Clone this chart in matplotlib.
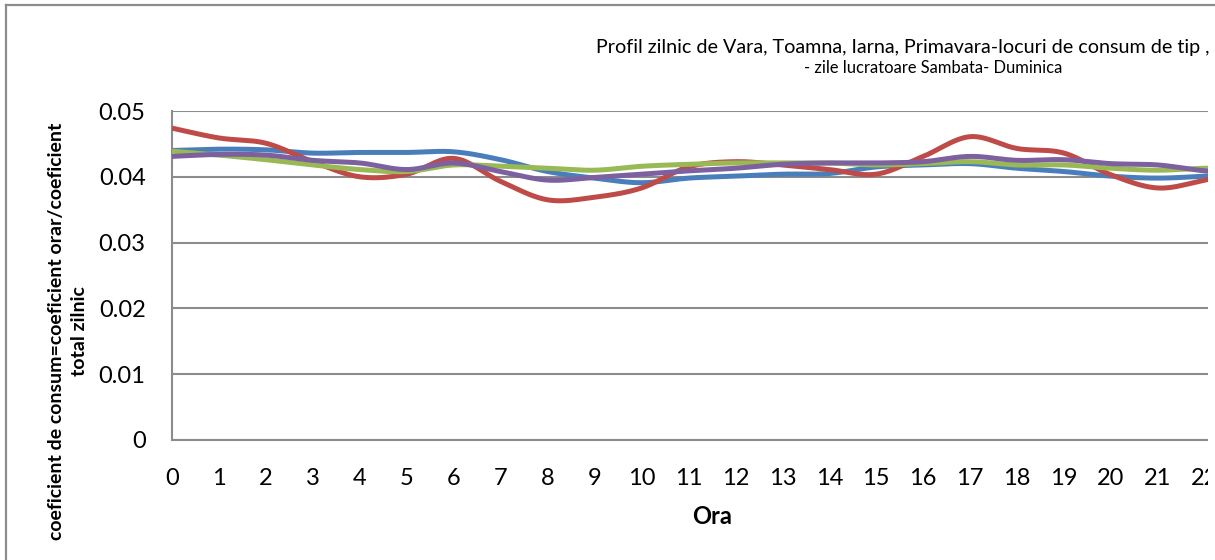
import numpy as np
import matplotlib
matplotlib.use("Agg")
import matplotlib.pyplot as plt
from matplotlib.patches import Rectangle

plt.rcParams["font.family"] = ["Lato", "DejaVu Sans"]

# Hourly consumption coefficients (hour 23 is off-picture, estimated)
ore = list(range(24))
vara = [0.0440, 0.0442, 0.0441, 0.0436, 0.0437, 0.0437, 0.0438, 0.0426, 0.0408, 0.0398, 0.0391, 0.0398,
        0.0401, 0.0404, 0.0405, 0.0415, 0.0418, 0.0420, 0.0413, 0.0408, 0.0401, 0.0398, 0.0401, 0.0405]
toamna = [0.0474, 0.0459, 0.0451, 0.0423, 0.0400, 0.0404, 0.0428, 0.0393, 0.0365, 0.0369, 0.0383, 0.0415,
          0.0423, 0.0418, 0.0411, 0.0404, 0.0431, 0.0461, 0.0443, 0.0436, 0.0403, 0.0383, 0.0395, 0.0410]
iarna = [0.0439, 0.0433, 0.0426, 0.0418, 0.0411, 0.0408, 0.0418, 0.0416, 0.0413, 0.0410, 0.0416, 0.0419,
         0.0421, 0.0421, 0.0421, 0.0418, 0.0420, 0.0423, 0.0418, 0.0418, 0.0413, 0.0410, 0.0413, 0.0412]
primavara = [0.0431, 0.0434, 0.0433, 0.0425, 0.0421, 0.0411, 0.0421, 0.0408, 0.0395, 0.0399, 0.0404, 0.0409,
             0.0413, 0.0419, 0.0421, 0.0421, 0.0423, 0.0431, 0.0425, 0.0426, 0.0420, 0.0418, 0.0409, 0.0405]

y_ticks = [0, 0.01, 0.02, 0.03, 0.04, 0.05]
y_tick_labels = ["0", "0.01", "0.02", "0.03", "0.04", "0.05"]

colors = ["#4a7ebb", "#be4b48", "#98b954", "#7d60a0"]
grid_col = "#8c8c8c"


# Excel-style smoothed line (cubic Bezier through the points, Catmull-Rom tangents)
def smooth(x, y, n=20):
    p = np.column_stack([x, y]).astype(float)
    p = np.vstack([p[0], p, p[-1]])
    out = []
    t = np.linspace(0, 1, n, endpoint=False)[:, None]
    for i in range(1, len(p) - 2):
        p0, p3 = p[i], p[i + 1]
        p1 = p0 + (p[i + 1] - p[i - 1]) / 6
        p2 = p3 - (p[i + 2] - p[i]) / 6
        seg = (1 - t) ** 3 * p0 + 3 * (1 - t) ** 2 * t * p1 + 3 * (1 - t) * t ** 2 * p2 + t ** 3 * p3
        out.append(seg)
    out.append(p[-2][None, :])
    out = np.vstack(out)
    return out[:, 0], out[:, 1]


W, H = 1215, 560
fig = plt.figure(figsize=(W / 100, H / 100), dpi=100)

# plot area runs past the right edge of the picture (chart is cropped)
step = 46.95
ax = fig.add_axes([172 / W, 120 / H, 23 * step / W, 329 / H])

for serie, c in zip([vara, toamna, iarna, primavara], colors):
    xs, ys = smooth(ore, serie)
    ax.plot(xs, ys, color=c, lw=3.6, solid_capstyle="butt", zorder=3)

ax.set_xlim(0, 23)
ax.set_ylim(0, 0.05)
ax.set_xticks(ore)
ax.set_xticklabels([str(h) for h in ore])
ax.set_yticks(y_ticks)
ax.set_yticklabels(y_tick_labels)
ax.tick_params(axis="both", length=0, labelsize=17, colors="black")
ax.tick_params(axis="x", pad=20)
ax.tick_params(axis="y", pad=19)
ax.grid(axis="y", color=grid_col, lw=1.5)
ax.set_axisbelow(True)
for s in ["top", "right"]:
    ax.spines[s].set_visible(False)
for s in ["left", "bottom"]:
    ax.spines[s].set_color(grid_col)
    ax.spines[s].set_linewidth(1.5)

ax.set_xlabel("Ora", fontsize=17, fontweight="bold")
ax.xaxis.set_label_coords(0.5, (440 - 516) / 329)
ax.xaxis.label.set_va("center")
ax.set_ylabel("coeficient de consum=coeficient orar/coeficient\ntotal zilnic",
              fontsize=14, fontweight="bold", linespacing=1.4)
ax.yaxis.set_label_coords((68 - 172) / (23 * step), (440 - 331) / 329)
ax.yaxis.label.set_va("center")

# cropped edge of the original picture
fig.add_artist(Rectangle((1208 / W, 0), 1, 1 - 90 / H, transform=fig.transFigure,
                         facecolor="white", edgecolor="none", zorder=10))

# chart area border (left and top visible)
fig.add_artist(plt.Line2D([6 / W, 6 / W], [0, 1 - 5 / H], transform=fig.transFigure,
                          color=grid_col, lw=1.6, zorder=11))
fig.add_artist(plt.Line2D([6 / W, 1], [1 - 5 / H, 1 - 5 / H], transform=fig.transFigure,
                          color=grid_col, lw=1.6, zorder=11))

fig.text(596 / W, 1 - 48 / H, "Profil zilnic de Vara, Toamna, Iarna, Primavara-locuri de consum de tip ,",
         ha="left", va="center", fontsize=14.2)
fig.text(804 / W, 1 - 68 / H, "- zile lucratoare Sambata- Duminica",
         ha="left", va="center", fontsize=11.9)

fig.savefig("out.png", dpi=100, facecolor="white")
